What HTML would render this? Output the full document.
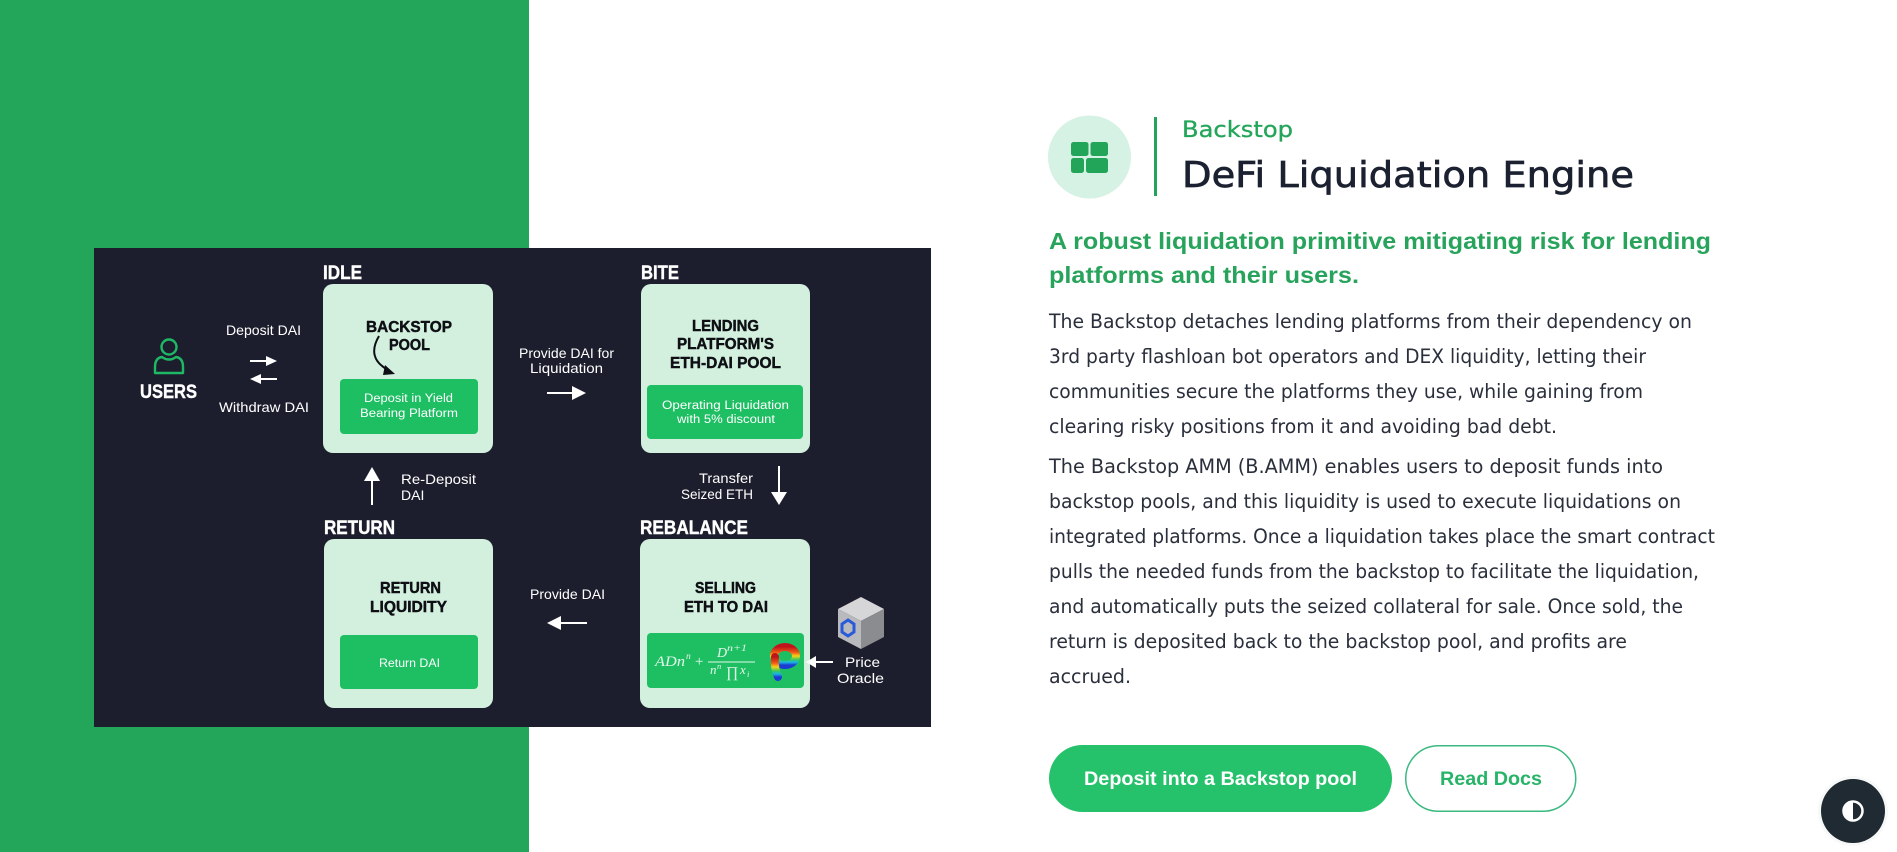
<!DOCTYPE html>
<html>
<head>
<meta charset="utf-8">
<style>
  html,body{margin:0;padding:0;}
  body{width:1897px;height:852px;overflow:hidden;background:#ffffff;position:relative;}
  .green{position:absolute;left:0;top:0;width:529px;height:852px;background:#23a659;}
  svg{position:absolute;left:0;top:0;}
</style>
</head>
<body>
<div class="green"></div>
<svg width="1897" height="852" viewBox="0 0 1897 852" xmlns="http://www.w3.org/2000/svg">
  <defs>
    <linearGradient id="curve" x1="0" y1="0" x2="0" y2="1">
      <stop offset="0" stop-color="#c0141c"/>
      <stop offset="0.3" stop-color="#f05a14"/>
      <stop offset="0.5" stop-color="#f4d21a"/>
      <stop offset="0.7" stop-color="#3cc85a"/>
      <stop offset="0.85" stop-color="#19b4e6"/>
      <stop offset="1" stop-color="#1a3cd2"/>
    </linearGradient>
  </defs>

  <!-- ===== Diagram ===== -->
  <rect x="94" y="248" width="837" height="479" fill="#1d1e2d"/>

  <!-- Section headers -->
  <g font-family="Liberation Sans, Arial, sans-serif" font-weight="bold" font-size="19" fill="#ffffff" stroke="#ffffff" stroke-width="0.4">
    <text x="323" y="279" textLength="39" lengthAdjust="spacingAndGlyphs">IDLE</text>
    <text x="641" y="279" textLength="38" lengthAdjust="spacingAndGlyphs">BITE</text>
    <text x="324" y="534" textLength="71" lengthAdjust="spacingAndGlyphs">RETURN</text>
    <text x="640" y="534" textLength="108" lengthAdjust="spacingAndGlyphs">REBALANCE</text>
    <text x="140" y="398" textLength="57" lengthAdjust="spacingAndGlyphs">USERS</text>
  </g>

  <!-- Light boxes -->
  <rect x="323" y="284" width="170" height="169" rx="10" fill="#d3f0df"/>
  <rect x="641" y="284" width="169" height="169" rx="10" fill="#d3f0df"/>
  <rect x="324" y="539" width="169" height="169" rx="10" fill="#d3f0df"/>
  <rect x="640" y="539" width="170" height="169" rx="10" fill="#d3f0df"/>

  <!-- Inner green boxes -->
  <rect x="340" y="379" width="138" height="55" rx="4" fill="#1ebf63"/>
  <rect x="647" y="385" width="156" height="54" rx="4" fill="#1ebf63"/>
  <rect x="340" y="635" width="138" height="54" rx="4" fill="#1ebf63"/>
  <rect x="647" y="633" width="157" height="55" rx="4" fill="#1ebf63"/>

  <!-- Box titles -->
  <g font-family="Liberation Sans, Arial, sans-serif" font-weight="bold" font-size="15.5" fill="#0e0f14" stroke="#0e0f14" stroke-width="0.45">
    <text x="366" y="332" textLength="86" lengthAdjust="spacingAndGlyphs">BACKSTOP</text>
    <text x="389" y="350" textLength="41" lengthAdjust="spacingAndGlyphs">POOL</text>
    <text x="692" y="331" textLength="67" lengthAdjust="spacingAndGlyphs">LENDING</text>
    <text x="677" y="349" textLength="97" lengthAdjust="spacingAndGlyphs">PLATFORM'S</text>
    <text x="670" y="368" textLength="111" lengthAdjust="spacingAndGlyphs">ETH-DAI POOL</text>
    <text x="380" y="593" textLength="61" lengthAdjust="spacingAndGlyphs">RETURN</text>
    <text x="370" y="612" textLength="77" lengthAdjust="spacingAndGlyphs">LIQUIDITY</text>
    <text x="695" y="593" textLength="61" lengthAdjust="spacingAndGlyphs">SELLING</text>
    <text x="684" y="612" textLength="84" lengthAdjust="spacingAndGlyphs">ETH TO DAI</text>
  </g>

  <!-- Inner box texts -->
  <g font-family="Liberation Sans, Arial, sans-serif" font-size="11.5" fill="#ffffff">
    <text x="364" y="402" textLength="89" lengthAdjust="spacingAndGlyphs">Deposit in Yield</text>
    <text x="360" y="417" textLength="98" lengthAdjust="spacingAndGlyphs">Bearing Platform</text>
    <text x="662" y="409" textLength="127" lengthAdjust="spacingAndGlyphs">Operating Liquidation</text>
    <text x="677" y="423" textLength="98" lengthAdjust="spacingAndGlyphs">with 5% discount</text>
    <text x="379" y="667" textLength="61" lengthAdjust="spacingAndGlyphs">Return DAI</text>
  </g>

  <!-- Connector labels -->
  <g font-family="Liberation Sans, Arial, sans-serif" font-size="14" fill="#ffffff">
    <text x="226" y="335" textLength="75" lengthAdjust="spacingAndGlyphs">Deposit DAI</text>
    <text x="219" y="412" textLength="90" lengthAdjust="spacingAndGlyphs">Withdraw DAI</text>
    <text x="519" y="358" textLength="95" lengthAdjust="spacingAndGlyphs">Provide DAI for</text>
    <text x="530" y="373" textLength="73" lengthAdjust="spacingAndGlyphs">Liquidation</text>
    <text x="401" y="484" textLength="75" lengthAdjust="spacingAndGlyphs">Re-Deposit</text>
    <text x="401" y="500">DAI</text>
    <text x="699" y="483" textLength="54" lengthAdjust="spacingAndGlyphs">Transfer</text>
    <text x="681" y="499" textLength="72" lengthAdjust="spacingAndGlyphs">Seized ETH</text>
    <text x="530" y="599" textLength="75" lengthAdjust="spacingAndGlyphs">Provide DAI</text>
    <text x="845" y="667" textLength="35" lengthAdjust="spacingAndGlyphs">Price</text>
    <text x="837" y="683" textLength="47" lengthAdjust="spacingAndGlyphs">Oracle</text>
  </g>

  <!-- Arrows -->
  <g fill="#ffffff" stroke="#ffffff">
    <line x1="250" y1="361" x2="267" y2="361" stroke-width="2"/>
    <polygon points="266,356 277,361 266,366" stroke="none"/>
    <line x1="260" y1="379" x2="277" y2="379" stroke-width="2"/>
    <polygon points="261,374 250,379 261,384" stroke="none"/>
    <line x1="547" y1="393" x2="573" y2="393" stroke-width="2"/>
    <polygon points="572,386 586,393 572,400" stroke="none"/>
    <line x1="779" y1="466" x2="779" y2="493" stroke-width="2"/>
    <polygon points="771,492 787,492 779,505" stroke="none"/>
    <line x1="372" y1="480" x2="372" y2="505" stroke-width="2"/>
    <polygon points="364,481 380,481 372,467" stroke="none"/>
    <line x1="560" y1="623" x2="587" y2="623" stroke-width="2"/>
    <polygon points="561,616 547,623 561,630" stroke="none"/>
    <line x1="815" y1="662" x2="833" y2="662" stroke-width="2"/>
    <polygon points="816,656 806,662 816,668" stroke="none"/>
  </g>

  <!-- curved black arrow in backstop box -->
  <path d="M379 336 Q366 358 388 370" fill="none" stroke="#0e0f14" stroke-width="2"/>
  <polygon points="385,365 395,374 383,375" fill="#0e0f14"/>

  <!-- user icon -->
  <g fill="none" stroke="#1fb965" stroke-width="2.4" stroke-linejoin="round">
    <circle cx="169" cy="347" r="7.5"/>
    <path d="M155 373 L155 367 Q155 358 162 357 Q169 362 176 357 Q183 358 183 367 L183 373 Z"/>
  </g>

  <!-- formula -->
  <g font-family="Liberation Serif, 'DejaVu Serif', serif" font-style="italic" fill="#e4f7eb">
    <text x="655" y="666" font-size="15" textLength="30" lengthAdjust="spacingAndGlyphs">ADn</text>
    <text x="686" y="659" font-size="9.5">n</text>
    <text x="695" y="666" font-size="15" font-style="normal">+</text>
    <text x="717" y="657" font-size="14">D</text>
    <text x="727" y="651" font-size="9" textLength="20" lengthAdjust="spacingAndGlyphs">n+1</text>
    <line x1="708" y1="662" x2="755" y2="662" stroke="#e4f7eb" stroke-width="1"/>
    <text x="710" y="674" font-size="13">n</text>
    <text x="717" y="669" font-size="8.5">n</text>
    <text x="726" y="677" font-size="15" font-style="normal">∏</text>
    <text x="740" y="674" font-size="13">x</text>
    <text x="747" y="677" font-size="8.5">i</text>
  </g>

  <!-- curve logo -->
  <g fill="none" stroke="url(#curve)">
    <ellipse cx="785" cy="656" rx="11" ry="9" stroke-width="8"/>
    <path d="M775 657 Q774 668 778 677" stroke-width="8" stroke-linecap="round"/>
  </g>

  <!-- oracle cube -->
  <polygon points="861,597 884,609 861,621 838,609" fill="#d6d6d8"/>
  <polygon points="838,609 861,621 861,649 838,637" fill="#b9babd"/>
  <polygon points="861,621 884,609 884,637 861,649" fill="#8b8c90"/>
  <polygon points="848,620 854,624 854,632 848,636 842,632 842,624" fill="none" stroke="#2a5ada" stroke-width="3"/>

  <!-- ===== Right side ===== -->
  <circle cx="1089.5" cy="157" r="41.5" fill="#d6f2e4"/>
  <g fill="#22a559">
    <rect x="1071" y="142" width="17.5" height="14" rx="2.5"/>
    <rect x="1090.5" y="142" width="17.5" height="14" rx="2.5"/>
    <rect x="1071" y="158" width="13" height="15" rx="2.5"/>
    <rect x="1086" y="158" width="22" height="15" rx="2.5"/>
  </g>
  <rect x="1154" y="117" width="3" height="79" fill="#22a559"/>

  <text x="1182" y="137" font-family="DejaVu Sans, sans-serif" font-size="21.8" fill="#23a55a" stroke="#23a55a" stroke-width="0.3" textLength="111" lengthAdjust="spacingAndGlyphs">Backstop</text>
  <text x="1182" y="187" font-family="DejaVu Sans, sans-serif" font-size="36" fill="#1b2130" stroke="#1b2130" stroke-width="0.7" textLength="452" lengthAdjust="spacingAndGlyphs">DeFi Liquidation Engine</text>

  <g font-family="Liberation Sans, Arial, sans-serif" font-weight="bold" font-size="23.5" fill="#27a35b">
    <text x="1049" y="249" textLength="662" lengthAdjust="spacingAndGlyphs">A robust liquidation primitive mitigating risk for lending</text>
    <text x="1049" y="283" textLength="310" lengthAdjust="spacingAndGlyphs">platforms and their users.</text>
  </g>

  <g font-family="DejaVu Sans, sans-serif" font-size="19.2" fill="#2a2f3c">
    <text x="1049" y="328" textLength="643" lengthAdjust="spacingAndGlyphs">The Backstop detaches lending platforms from their dependency on</text>
    <text x="1049" y="363" textLength="597" lengthAdjust="spacingAndGlyphs">3rd party flashloan bot operators and DEX liquidity, letting their</text>
    <text x="1049" y="398" textLength="594" lengthAdjust="spacingAndGlyphs">communities secure the platforms they use, while gaining from</text>
    <text x="1049" y="433" textLength="508" lengthAdjust="spacingAndGlyphs">clearing risky positions from it and avoiding bad debt.</text>
    <text x="1049" y="473" textLength="614" lengthAdjust="spacingAndGlyphs">The Backstop AMM (B.AMM) enables users to deposit funds into</text>
    <text x="1049" y="508" textLength="632" lengthAdjust="spacingAndGlyphs">backstop pools, and this liquidity is used to execute liquidations on</text>
    <text x="1049" y="543" textLength="666" lengthAdjust="spacingAndGlyphs">integrated platforms. Once a liquidation takes place the smart contract</text>
    <text x="1049" y="578" textLength="650" lengthAdjust="spacingAndGlyphs">pulls the needed funds from the backstop to facilitate the liquidation,</text>
    <text x="1049" y="613" textLength="634" lengthAdjust="spacingAndGlyphs">and automatically puts the seized collateral for sale. Once sold, the</text>
    <text x="1049" y="648" textLength="578" lengthAdjust="spacingAndGlyphs">return is deposited back to the backstop pool, and profits are</text>
    <text x="1049" y="683" textLength="82" lengthAdjust="spacingAndGlyphs">accrued.</text>
  </g>

  <!-- Buttons -->
  <rect x="1049" y="745" width="343" height="67" rx="33.5" fill="#26c16b"/>
  <text x="1084" y="785" font-family="Liberation Sans, Arial, sans-serif" font-weight="bold" font-size="19.4" fill="#ffffff" textLength="273" lengthAdjust="spacingAndGlyphs">Deposit into a Backstop pool</text>
  <rect x="1405.75" y="745.75" width="170" height="65.5" rx="32.75" fill="#ffffff" stroke="#3bb981" stroke-width="1.5"/>
  <text x="1440" y="785" font-family="Liberation Sans, Arial, sans-serif" font-weight="bold" font-size="19.4" fill="#28b468" textLength="102" lengthAdjust="spacingAndGlyphs">Read Docs</text>

  <!-- theme toggle -->
  <circle cx="1853" cy="811" r="35" fill="#f2f3f4" opacity="0.6"/>
  <circle cx="1853" cy="811" r="32" fill="#1f2a33"/>
  <circle cx="1853" cy="811" r="9.5" fill="none" stroke="#ffffff" stroke-width="2.5"/>
  <path d="M1853 801.5 A9.5 9.5 0 0 0 1853 820.5 Z" fill="#ffffff"/>
</svg>
</body>
</html>
